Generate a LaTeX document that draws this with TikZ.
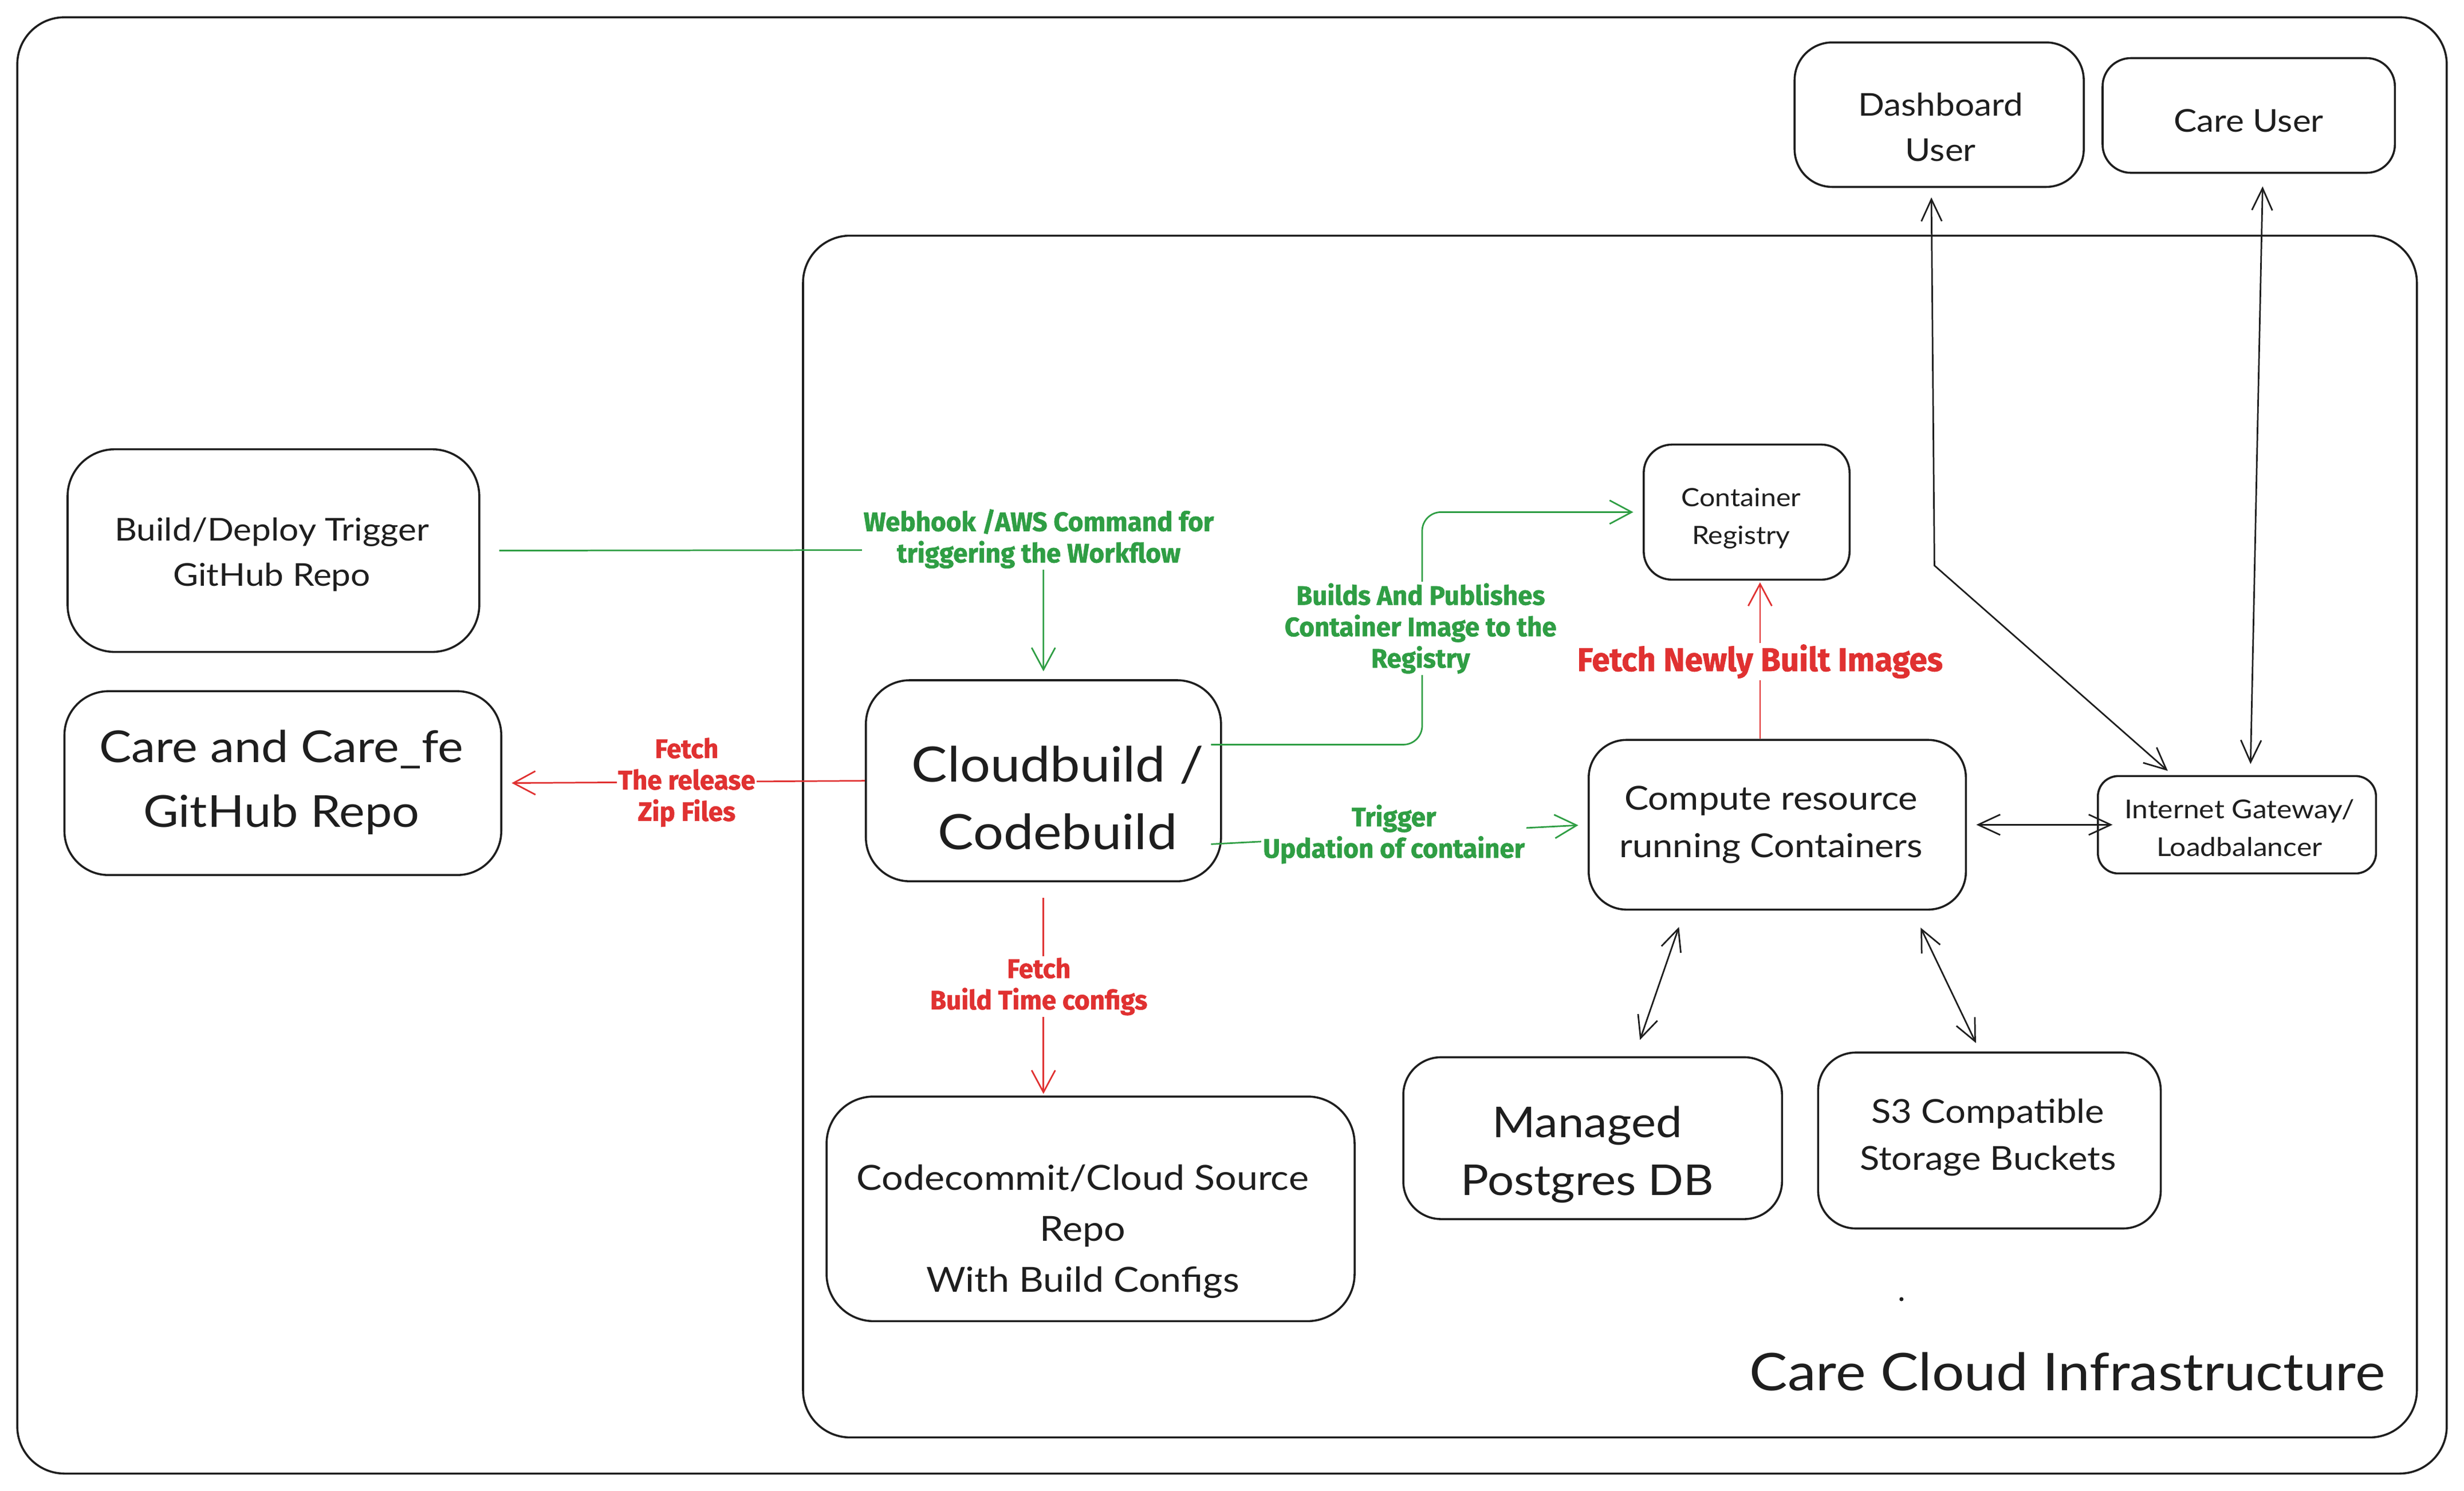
\documentclass[tikz,border=0pt]{standalone}
\usepackage{fontspec}
\setmainfont[FakeStretch=1.1]{Lato}
\newfontfamily\lblfont[FakeStretch=0.98,FakeBold=1.2]{Fira Sans}
\usetikzlibrary{arrows.meta,calc}
\definecolor{exgreen}{HTML}{2F9E44}
\definecolor{exred}{HTML}{E03131}
\definecolor{exink}{HTML}{1E1E1E}
\tikzset{
  box/.style={draw=exink, line width=1.3pt, rounded corners=24pt, inner sep=0pt},
  txt/.style={align=center, text=exink, inner sep=0pt},
  frame/.style={draw=exink, line width=1.3pt, rounded corners=30pt},
  tip/.style={-{Straight Barb[length=14pt,width=15pt,line width=1pt]}},
  dtip/.style={{Straight Barb[length=14pt,width=13pt,line width=1pt]}-{Straight Barb[length=14pt,width=13pt,line width=1pt]}},
  garrow/.style={draw=exgreen, line width=1pt, tip},
  rarrow/.style={draw=exred, line width=1pt, tip},
  barrow/.style={draw=exink, line width=1pt, dtip},
  glabel/.style={fill=white, text=exgreen, align=center, inner sep=1pt, font=\lblfont\bfseries\fontsize{17}{20}\selectfont},
  rlabel/.style={fill=white, text=exred, align=center, inner sep=1pt, font=\lblfont\bfseries\fontsize{17}{20}\selectfont},
}
\begin{document}
\begin{tikzpicture}[x=1pt,y=-1pt]
\useasboundingbox (0,0) rectangle (1568,949);
% frames
\draw[frame] (11,11) rectangle (1557,938);
\draw[frame] (511,150) rectangle (1538,915);
\node[anchor=east, text=exink, inner sep=0pt, font=\fontsize{33}{38}\selectfont] (title) at (1518,873) {Care Cloud Infrastructure};
\fill[exink] (1210,827) circle (1.3pt);
% boxes
\node[box, minimum width=184pt, minimum height=92pt] (dash) at (1234,73) {};
\node[box, minimum width=186pt, minimum height=73pt, rounded corners=18pt] (careu) at (1431,73.5) {};
\node[box, minimum width=262pt, minimum height=129pt, rounded corners=30pt] (build) at (174,350.5) {};
\node[box, minimum width=278pt, minimum height=117pt, rounded corners=28pt] (carefe) at (180,498.5) {};
\node[box, minimum width=226pt, minimum height=128pt, rounded corners=28pt] (cloud) at (664,497) {};
\node[box, minimum width=336pt, minimum height=143pt, rounded corners=30pt] (commit) at (694,769.5) {};
\node[box, minimum width=131pt, minimum height=86pt, rounded corners=18pt] (reg) at (1111.5,326) {};
\node[box, minimum width=240pt, minimum height=108pt, rounded corners=24pt] (comp) at (1131,525) {};
\node[box, minimum width=177pt, minimum height=62pt, rounded corners=13pt] (gw) at (1423.5,525) {};
\node[box, minimum width=241pt, minimum height=103pt, rounded corners=24pt] (pg) at (1013.5,724.5) {};
\node[box, minimum width=218pt, minimum height=112pt, rounded corners=24pt] (s3) at (1266,726) {};
% box texts
\node[txt, font=\fontsize{20}{29}\selectfont] (dashtxt) at (1235,81) {Dashboard\\User};
\node[txt, font=\fontsize{20}{29}\selectfont] (careutxt) at (1431,77) {Care User};
\node[txt, font=\fontsize{20}{29}\selectfont] (buildtxt) at (173,353) {Build/Deploy Trigger\\GitHub Repo};
\node[txt, font=\fontsize{28}{41}\selectfont] (carefetxt) at (179,498) {Care and Care\_fe\\GitHub Repo};
\node[txt, font=\fontsize{31}{43}\selectfont] (cloudtxt) at (673,508) {Cloudbuild /\\Codebuild};
\node[txt, font=\fontsize{22}{32.5}\selectfont] (committxt) at (689,784) {Codecommit/Cloud Source\\Repo\\With Build Configs};
\node[txt, font=\fontsize{16}{24}\selectfont] (regtxt) at (1108,330) {Container\\Registry};
\node[txt, font=\fontsize{21}{30}\selectfont] (comptxt) at (1127,525) {Compute resource\\running Containers};
\node[txt, font=\fontsize{16.5}{24}\selectfont] (gwtxt) at (1425,527) {Internet Gateway/\\Loadbalancer};
\node[txt, font=\fontsize{27}{37}\selectfont] (pgtxt) at (1010,735) {Managed\\Postgres DB};
\node[txt, font=\fontsize{21}{30}\selectfont] (s3txt) at (1265,724) {S3 Compatible\\Storage Buckets};
% green connectors
\coordinate (whc) at (664,350);
\draw[garrow, shorten <=12pt, shorten >=5pt] (build.east) -- (whc) -- (cloud.north);
\node[glabel] (whl) at (661,343) {Webhook /AWS Command for\\triggering the Workflow};
\coordinate (bp1) at ([yshift=23pt]cloud.east);
\coordinate (bp2) at (905,326);
\draw[garrow, rounded corners=12pt, shorten <=-7pt, shorten >=6pt] (bp1) -| (bp2) -- (reg.west);
\node[glabel] (bpl) at (904,400) {Builds And Publishes\\Container Image to the\\Registry};
\coordinate (tr1) at ([yshift=-40pt]cloud.east);
\draw[garrow, shorten <=-7pt, shorten >=6pt] (tr1) -- (comp.west);
\node[glabel] (trl) at (887,531) {Trigger\\Updation of container};
% red connectors
\draw[rarrow, shorten >=6pt] (cloud.west) -- (carefe.east);
\node[rlabel] (frl) at (437,498) {Fetch\\The release\\Zip Files};
\coordinate (bt2) at (cloud.south |- commit.north);
\draw[rarrow, shorten <=10pt, shorten >=1pt] (cloud.south) -- (bt2);
\node[rlabel] (btl) at (661,628) {Fetch\\Build Time configs};
\coordinate (im1) at ([xshift=-11pt]comp.north);
\coordinate (im2) at (im1 |- reg.south);
\draw[rarrow, shorten >=1pt] (im1) -- (im2);
\node[rlabel, font=\lblfont\bfseries\fontsize{21}{25}\selectfont] (iml) at (1120,421) {Fetch Newly Built Images};
% black connectors
\coordinate (du1) at ([xshift=-5pt]dash.south);
\coordinate (du2) at (1231,360);
\coordinate (du3) at ([xshift=-41pt]gw.north);
\draw[barrow, shorten <=6pt, shorten >=4pt] (du1) -- (du2) -- (du3);
\draw[barrow, shorten <=8pt, shorten >=7pt] ([xshift=9pt]careu.south) -- ([xshift=8.5pt]gw.north);
\draw[barrow, shorten <=6pt, shorten >=-10pt] (comp.east) -- (gw.west);
\draw[barrow, shorten <=11pt, shorten >=11pt] ([xshift=-59pt]comp.south) -- ([xshift=26.5pt]pg.north);
\draw[barrow, shorten <=12pt, shorten >=6pt] ([xshift=86pt]comp.south) -- ([xshift=-6pt]s3.north);
\end{tikzpicture}
\end{document}
